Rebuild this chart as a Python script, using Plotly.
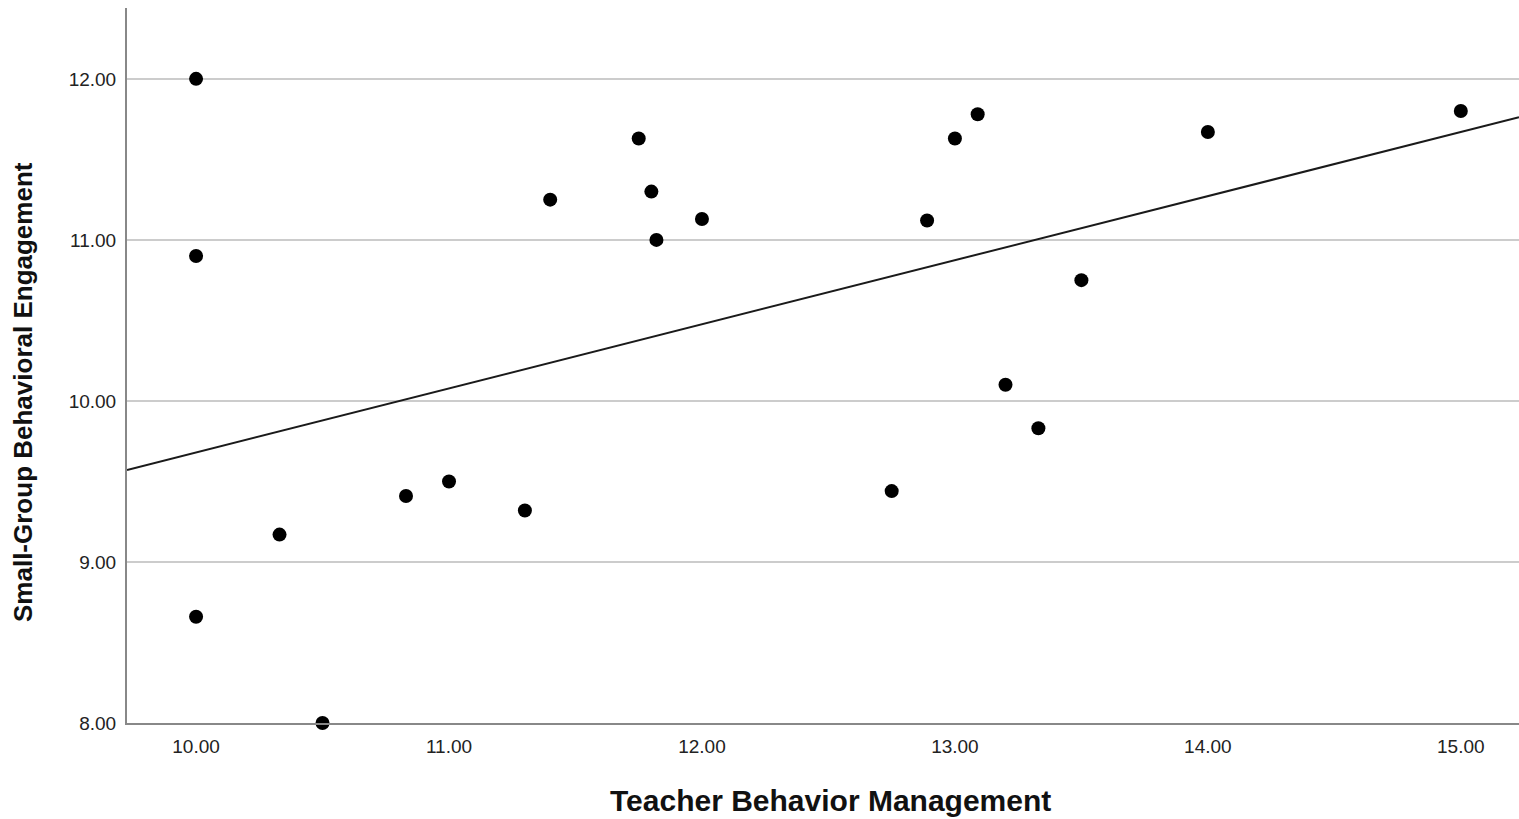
import numpy as np
import plotly.graph_objects as go

teacher_bm = [10.00, 10.00, 10.00, 10.33, 10.50, 10.83, 11.00, 11.30, 11.40, 11.75, 11.80,
              11.82, 12.00, 12.75, 12.89, 13.00, 13.09, 13.20, 13.33, 13.50, 14.00, 15.00]
engagement = [12.00, 10.90, 8.66, 9.17, 8.00, 9.41, 9.50, 9.32, 11.25, 11.63, 11.30,
              11.00, 11.13, 9.44, 11.12, 11.63, 11.78, 10.10, 9.83, 10.75, 11.67, 11.80]
# fit line as shown in the chart (intercept, slope)
fit_intercept = 5.70
fit_slope = 0.398
x_ticks = [10, 11, 12, 13, 14, 15]
y_ticks = [8, 9, 10, 11, 12]
x_range = [9.727, 15.23]
y_range = [8.0, 12.44]
x_title = "Teacher Behavior Management"
y_title = "Small-Group Behavioral Engagement"

line_x = np.array(x_range)
line_y = fit_intercept + fit_slope * line_x

W, H = 1519, 819
ML, MR, MT, MB = 127, 0, 8, 96
PW, PH = W - ML - MR, H - MT - MB

fig = go.Figure()
fig.add_trace(go.Scatter(x=line_x, y=line_y, mode="lines",
                         line=dict(color="#1a1a1a", width=2), hoverinfo="skip"))
fig.add_trace(go.Scatter(x=teacher_bm, y=engagement, mode="markers",
                         marker=dict(color="black", size=14), cliponaxis=False))

fig.update_layout(
    width=W, height=H,
    margin=dict(l=ML, r=MR, t=MT, b=MB, autoexpand=False),
    plot_bgcolor="white", paper_bgcolor="white",
    showlegend=False,
    font=dict(family="Liberation Sans, Arial", color="#222"),
    annotations=[
        dict(text=f"<b>{x_title}</b>", xref="paper", yref="paper",
             x=(830 - ML) / PW, y=-(800 - (MT + PH)) / PH, xanchor="center", yanchor="middle",
             showarrow=False, font=dict(size=30, color="#111")),
        dict(text=f"<b>{y_title}</b>", xref="paper", yref="paper", textangle=-90,
             x=(23 - ML) / PW, y=((MT + PH) - 392) / PH, xanchor="center", yanchor="middle",
             showarrow=False, font=dict(size=26, color="#111")),
    ],
)
fig.update_xaxes(range=x_range, tickvals=x_ticks, ticktext=[f"{v:.2f}" for v in x_ticks],
                 showgrid=False, zeroline=False, showline=True, linecolor="#888", linewidth=2,
                 ticks="", tickfont=dict(size=19, color="#222"), ticklabelstandoff=5)
fig.update_yaxes(range=y_range, tickvals=y_ticks, ticktext=[f"{v:.2f}" for v in y_ticks],
                 showgrid=True, gridcolor="#cccccc", gridwidth=2, zeroline=False,
                 showline=True, linecolor="#888", linewidth=2,
                 ticks="", tickfont=dict(size=19, color="#222"), ticklabelstandoff=5)

fig.write_html("out.html", config={"displayModeBar": False},
               post_script="document.body.style.margin='0';document.body.style.overflow='hidden';")
